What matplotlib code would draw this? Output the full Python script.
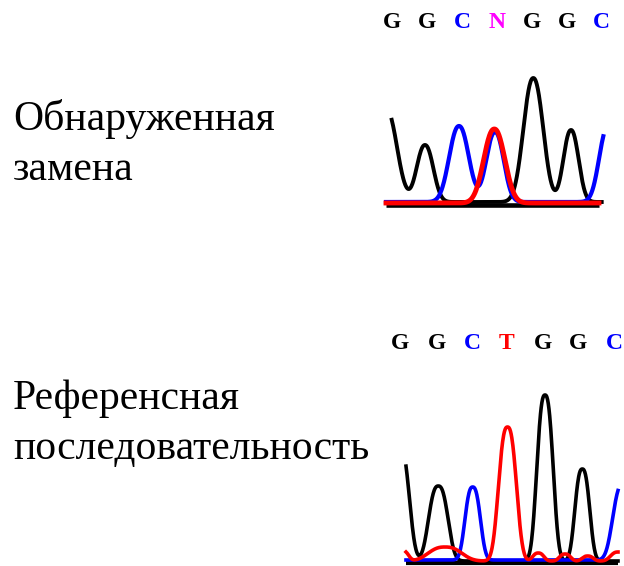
import numpy as np
import matplotlib
matplotlib.use("Agg")
import matplotlib.pyplot as plt

# ---------------- data ----------------
# base calls
top_bases = ["G", "G", "C", "N", "G", "G", "C"]
bottom_bases = ["G", "G", "C", "T", "G", "G", "C"]
base_colors = {"G": "black", "C": "#0000FF", "N": "#FF00FF", "T": "#FF0000"}

top_label = "Обнаруженная\nзамена"
bottom_label = "Референсная\nпоследовательность"

# chromatogram peaks per channel: scan position, intensity, half width
top_black_pos = [0, 39, 147.3, 185]
top_black_h = [93, 57, 124, 72]
top_black_w = [12.5, 9.5, 11.3, 8.7]
top_blue_pos = [73, 109, 222]
top_blue_h = [76, 70, 75]
top_blue_w = [11.2, 10, 10]
top_red_pos = [108.3]
top_red_h = [74]
top_red_w = [12]

bot_black_pos = [-6, 32.3, 139, 176.3]
bot_black_h = [114, 75, 166, 92]
bot_black_w = [10, 10.5, 8.8, 8]
bot_blue_pos = [66.7, 217]
bot_blue_h = [73, 76]
bot_blue_w = [8.3, 11]
bot_red_pos = [-3, 39, 101.5, 132.3, 159, 181.7, 212]
bot_red_h = [10, 14, 134, 8, 7, 5, 9]
bot_red_w = [6, 18, 9.7, 6, 6, 6, 8]

# ---------------- helpers ----------------
W, H = 624, 566
fig = plt.figure(figsize=(W / 100, H / 100), dpi=100)
serif = ["Liberation Serif", "DejaVu Serif"]


def trace(x, pos, h, w, offset, p):
    y = np.full_like(x, offset, dtype=float)
    for c, a, s in zip(pos, h, w):
        y += a * np.exp(-np.log(2) * (np.abs(x - c) / s) ** p)
    return y


def make_ax(left_px, base_px, width_px, height_px):
    ax = fig.add_axes([left_px / W, (H - base_px) / H, width_px / W, height_px / H])
    ax.set_xlim(0, width_px)
    ax.set_ylim(0, height_px)
    ax.axis("off")
    return ax


# ---------------- top panel ----------------
ax1 = make_ax(386, 205, 217, 140)
ax1.plot([0, 213], [0, 0], color="black", lw=3.3, solid_capstyle="butt", clip_on=False)
xb = np.linspace(5.7, 215.7, 600)
ax1.plot(xb, trace(xb, top_black_pos, top_black_h, top_black_w, 3, 2.2),
         color="black", lw=2.8, clip_on=False)
xbl = np.linspace(0, 217.3, 600)
ax1.plot(xbl, trace(xbl, top_blue_pos, top_blue_h, top_blue_w, 3, 2.2),
         color="#0000FF", lw=3.0, clip_on=False)
xr = np.linspace(0, 213, 600)
ax1.plot(xr, trace(xr, top_red_pos, top_red_h, top_red_w, 2, 2.2),
         color="#FF0000", lw=3.5, clip_on=False)

top_x = [391.7, 427, 462.7, 496.7, 531.7, 566.7, 601.7]
for b, px in zip(top_bases, top_x):
    fig.text(px / W, 1 - 23 / H, b, color=base_colors[b], family=serif, fontweight="bold",
             fontsize=17, ha="center", va="center")

# ---------------- bottom panel ----------------
ax2 = make_ax(406, 563, 212, 180)
ax2.plot([0, 212], [0, 0], color="black", lw=3.0, solid_capstyle="butt", clip_on=False)
xb2 = np.linspace(0, 212, 600)
ax2.plot(xb2, trace(xb2, bot_black_pos, bot_black_h, bot_black_w, 2, 2.6),
         color="black", lw=2.6, clip_on=False)
ax2.plot(xb2, trace(xb2, bot_blue_pos, bot_blue_h, bot_blue_w, 3, 2.6),
         color="#0000FF", lw=2.6, clip_on=False)
ax2.plot(xb2, trace(xb2, bot_red_pos, bot_red_h, bot_red_w, 2, 2.6),
         color="#FF0000", lw=2.6, clip_on=False)

bot_x = [400, 436.7, 472.7, 506.7, 543.3, 578.3, 614]
for b, px in zip(bottom_bases, bot_x):
    fig.text(px / W, 1 - 343.5 / H, b, color=base_colors[b], family=serif, fontweight="bold",
             fontsize=17, ha="center", va="center")

# ---------------- labels ----------------
for i, line in enumerate(top_label.split("\n")):
    fig.text(13 / W, 1 - (130 + 50 * i) / H, line, family=serif, fontsize=30,
             ha="left", va="baseline", color="black")
for i, line in enumerate(bottom_label.split("\n")):
    fig.text(13 / W, 1 - (409 + 50 * i) / H, line, family=serif, fontsize=30,
             ha="left", va="baseline", color="black")

fig.savefig("out.png", dpi=100, facecolor="white")
